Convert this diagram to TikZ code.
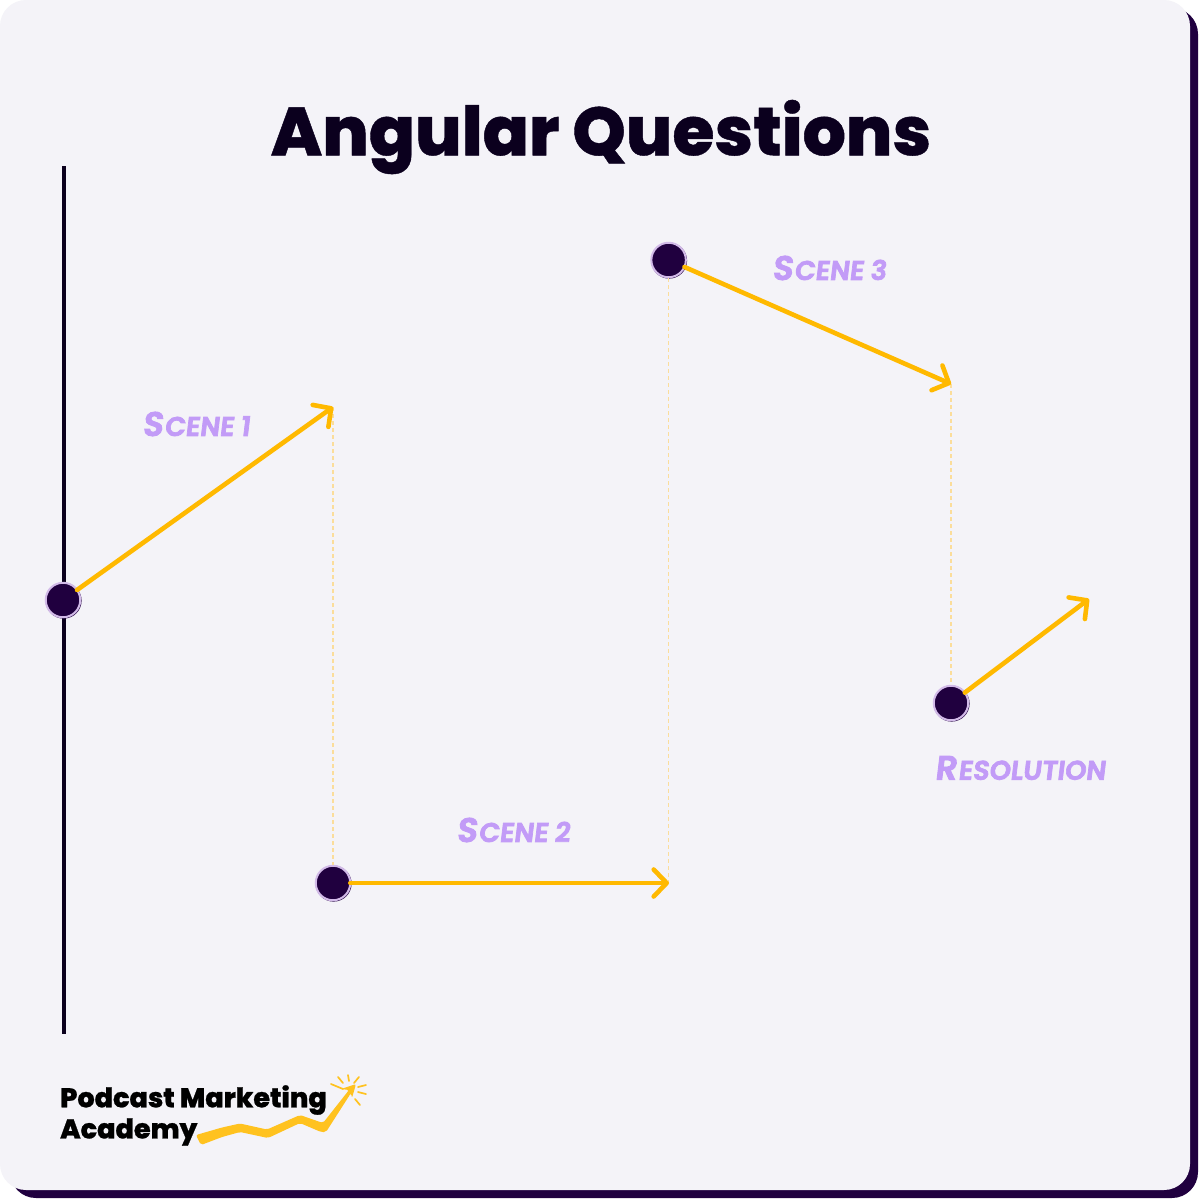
\documentclass[tikz,border=0pt]{standalone}
\usepackage{fontspec}
\usetikzlibrary{arrows.meta}
\setmainfont{Poppins}
\newfontfamily\titlefont[FakeBold=0.6]{Poppins ExtraBold}
\newfontfamily\logofont[FakeBold=0.9]{Poppins ExtraBold}
\newfontfamily\markerfont[FakeSlant=0.12,FakeBold=2.6]{Poppins SemiBold}
\definecolor{cardbg}{HTML}{F4F3F8}
\definecolor{cardedge}{HTML}{20003F}
\definecolor{ink}{HTML}{0B001E}
\definecolor{gold}{HTML}{FFB900}
\definecolor{logogold}{HTML}{FFC21F}
\definecolor{dash}{HTML}{FBDD9B}
\definecolor{lilac}{HTML}{C29BF7}
\definecolor{ringc}{HTML}{D2BAE8}
\newcommand{\scenetxt}[2]{{\markerfont\fontsize{34}{34}\selectfont #1\kern1.5pt\fontsize{27}{27}\selectfont #2}}
\tikzset{
  x=1pt,y=-1pt,
  dot/.style={circle,draw=ringc,line width=2pt,fill=cardedge,minimum size=34.5pt,inner sep=0pt},
  dotshadow/.style={circle,fill=cardedge,minimum size=36pt,inner sep=0pt},
  scenearrow/.style={draw=gold,line width=4.6pt,line cap=round,line join=round,-{Straight Barb[length=13pt,width=27pt,line width=4.6pt,round]},shorten <=-1pt},
  guide/.style={draw=dash,line width=1.6pt,dash pattern=on 3.5pt off 3.5pt},
  scenelabel/.style={text=lilac,inner sep=0pt,anchor=center},
  logotext/.style={text=black,inner sep=0pt,anchor=west},
  ray/.style={draw=logogold,line width=1.7pt,line cap=round}
}
\begin{document}
\begin{tikzpicture}
\useasboundingbox (0,0) rectangle (1200,1200);
\fill[white] (0,0) rectangle (1200,1200);
\fill[cardedge,rounded corners=26pt] (10,8) rectangle (1198,1198);
\fill[cardbg,rounded corners=26pt] (0,0) rectangle (1190,1190);
\node[inner sep=0pt,text=ink] (title) at (601,137) {\titlefont\fontsize{68}{68}\selectfont Angular Questions};
\coordinate (axisTop) at (64,166);
\coordinate (axisBot) at (64,1034);
\draw[draw=ink,line width=4.6pt] (axisTop) -- (axisBot);
\coordinate (tipA) at (333,407);
\coordinate (tipB) at (669,883);
\coordinate (tipC) at (951,384);
\coordinate (tipD) at (1089,599);
\node[dotshadow] at (63.6,600.6) {};
\node[dotshadow] at (333.6,883.6) {};
\node[dotshadow] at (669.1,260.6) {};
\node[dotshadow] at (951.6,703.6) {};
\node[dot] (a) at (63,600) {};
\node[dot] (b) at (333,883) {};
\node[dot] (c) at (668.6,260) {};
\node[dot] (d) at (951,703) {};
\draw[guide] (tipA) -- (b);
\draw[guide] (c) -- (c |- tipB);
\draw[guide] (tipC) -- (d);
\draw[scenearrow] (a) -- (tipA);
\draw[scenearrow] (b) -- (tipB);
\draw[scenearrow] (c) -- (tipC);
\draw[scenearrow] (d) -- (tipD);
\node[scenelabel] (s1) at (196,424) {\scenetxt{S}{CENE 1}};
\node[scenelabel] (s2) at (513,830) {\scenetxt{S}{CENE 2}};
\node[scenelabel] (s3) at (829,268) {\scenetxt{S}{CENE 3}};
\node[scenelabel] (s4) at (1020,768) {\scenetxt{R}{ESOLUTION}};
\node[logotext] (l1) at (60,1100) {\logofont\fontsize{27.1}{27.1}\selectfont Podcast Marketing};
\node[logotext] (l2) at (60,1132) {\logofont\fontsize{27.1}{27.1}\selectfont Academy};
\fill[logogold,rounded corners=2pt] (196,1135) -- (222,1127.5) -- (240,1123.5) -- (267,1129.5) -- (300,1115) -- (323,1123) -- (349,1090)
 -- (341,1089) -- (356,1084) -- (352,1098) -- (351,1093)
 -- (326,1132) -- (321,1132) -- (300,1123) -- (268,1138) -- (240,1132) -- (222,1137) -- (201,1145) -- cycle;
\foreach \xa/\ya/\xb/\yb in {331/1084/343/1089, 338/1077/343/1083, 348/1075/349/1081, 359/1077/354/1083, 366/1085/358/1087, 366/1094/358/1092, 360/1105/355/1099}{
  \draw[ray] (\xa,\ya) -- (\xb,\yb);
}
\end{tikzpicture}
\end{document}
